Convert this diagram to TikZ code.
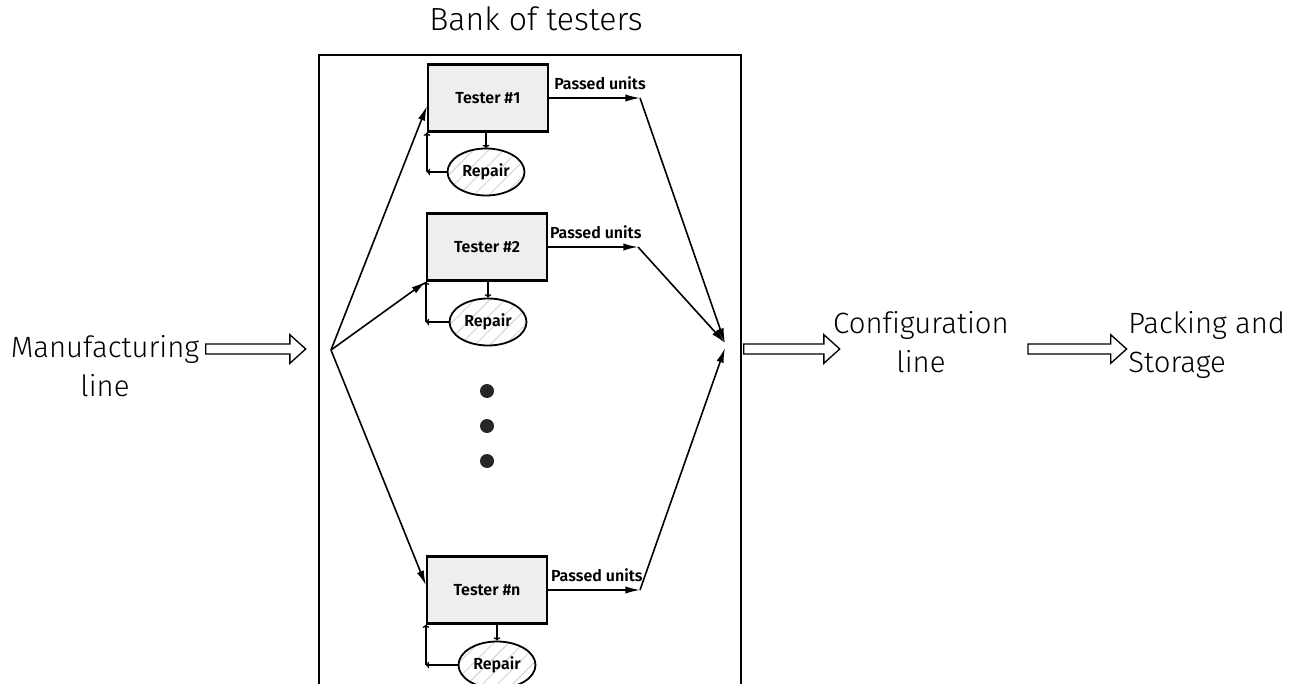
\documentclass[tikz,border=0pt]{standalone}
\usepackage{fontspec}
\usetikzlibrary{shapes.arrows,shapes.geometric,patterns.meta,arrows.meta}

% Thin face for the large labels, heavier face for the small tags
\IfFontExistsTF{Fira Sans Light}
  {\newfontfamily\plainlbl{Fira Sans Light}[Ligatures=NoCommon]}
  {\newfontfamily\plainlbl{Fira Sans}[Ligatures=NoCommon]}
\IfFontExistsTF{Fira Sans SemiBold}
  {\newfontfamily\boldlbl{Fira Sans SemiBold}}
  {\newfontfamily\boldlblbase{Fira Sans}\def\boldlbl{\boldlblbase\bfseries}}

\newcommand{\centredlines}[2]{\vtop{\halign{\hfil##\hfil\cr #1\cr #2\cr}}}
\newcommand{\leftlines}[2]{\vtop{\halign{##\hfil\cr #1\cr #2\cr}}}

\tikzset{
  bigtext/.style={font=\plainlbl\fontsize{22}{29.25}\selectfont, inner sep=0pt},
  titletext/.style={font=\plainlbl\fontsize{24}{29.25}\selectfont, inner sep=0pt},
  smalltext/.style={font=\boldlbl\fontsize{12}{14}\selectfont},
  tester/.style={draw, line width=1.6pt, fill=gray!13, minimum width=90pt,
    minimum height=50.25pt, inner sep=0pt, smalltext},
  repairnode/.style={ellipse, draw, line width=1.35pt, minimum width=57.75pt,
    minimum height=35.25pt, inner sep=0pt,
    pattern={Lines[angle=45,distance=8pt,line width=0.7pt]}, pattern color=gray!35,
    smalltext},
  bank/.style={draw, line width=1.3pt, minimum width=316.5pt, minimum height=498.75pt,
    inner sep=0pt},
  flow/.style={line width=1.2pt, -{Latex[length=11pt,width=5.5pt]}},
  feedback/.style={line width=1pt, -{To[length=2.5pt,width=5pt]}},
  hollow/.style={single arrow, draw, line width=1pt, fill=white, inner xsep=0pt,
    inner ysep=3.2pt, single arrow head extend=7pt, single arrow tip angle=84},
  dotmark/.style={circle, fill=black!85, minimum size=10.5pt, inner sep=0pt},
}

\begin{document}
\begin{tikzpicture}[x=0.75pt, y=-0.75pt]
  \useasboundingbox (0,0) rectangle (1299,684);
  \clip (0,0) rectangle (1299,684);

  % enclosing frame of the tester bank (runs past the lower edge)
  \node[bank] (bankbox) at (530,387.5) {};
  \node[titletext, anchor=base] (banktitle) at (536,31) {Bank of testers};

  % testers and their repair stations
  \node[tester] (t1) at (488,98) {Tester \#1};
  \node[tester] (t2) at (487,247) {Tester \#2};
  \node[tester] (tn) at (487,590) {Tester \#n};

  \node[repairnode] (r1) at (486,172) {Repair};
  \node[repairnode] (r2) at (488,322) {Repair};
  \node[repairnode] (rn) at (497,665) {Repair};

  % elided testers
  \node[dotmark] (d1) at (487,391) {};
  \node[dotmark] (d2) at (487,426) {};
  \node[dotmark] (d3) at (487,461) {};

  % repair loops
  \foreach \t/\r in {t1/r1, t2/r2, tn/rn}{
    \draw[feedback] (\r.north |- \t.south) -- (\r.north);
    \draw[feedback] (\r.west) -- (\r.west -| \t.west);
    \draw[feedback] (\r.west -| \t.west) -- (\t.south west);
  }

  % distribution from the incoming line
  \coordinate (split) at (331,350);
  \draw[flow] (split) -- ([yshift=-6pt]t1.west);
  \draw[flow] (split) -- (t2.south west);
  \draw[flow] (split) -- ([yshift=3.5pt]tn.west);

  % passed units collected towards the output
  \coordinate (p1) at (640,98);
  \coordinate (p2) at (638,247);
  \coordinate (pn) at (640,590);
  \coordinate (m1) at (725,343);
  \coordinate (m2) at (725,348);

  \draw[flow] (t1.east) -- node[pos=0.56, above=4.5pt, inner sep=1pt, smalltext] {Passed units} (p1);
  \draw[flow] (t2.east) -- node[pos=0.53, above=4.5pt, inner sep=1pt, smalltext] {Passed units} (p2);
  \draw[flow] (tn.east) -- node[pos=0.53, above=4.5pt, inner sep=1pt, smalltext] {Passed units} (pn);
  \draw[flow] (p1) -- (m1);
  \draw[flow] (p2) -- (m1);
  \draw[flow] (pn) -- (m2);

  % main line stages
  \node[bigtext, anchor=base] (mfg) at (105,357) {\centredlines{Manufacturing}{line}};
  \node[bigtext, anchor=base] (cfg) at (921,333) {\centredlines{Configuration}{line}};
  \node[bigtext, anchor=base west] (pack) at (1128,333) {\leftlines{Packing and}{Storage}};

  \node[hollow, minimum height=75pt] (a1) at (253,349) {};
  \node[hollow, minimum height=72pt] (a2) at (789,349) {};
  \node[hollow, minimum height=74pt] (a3) at (1074.5,349) {};
\end{tikzpicture}
\end{document}
